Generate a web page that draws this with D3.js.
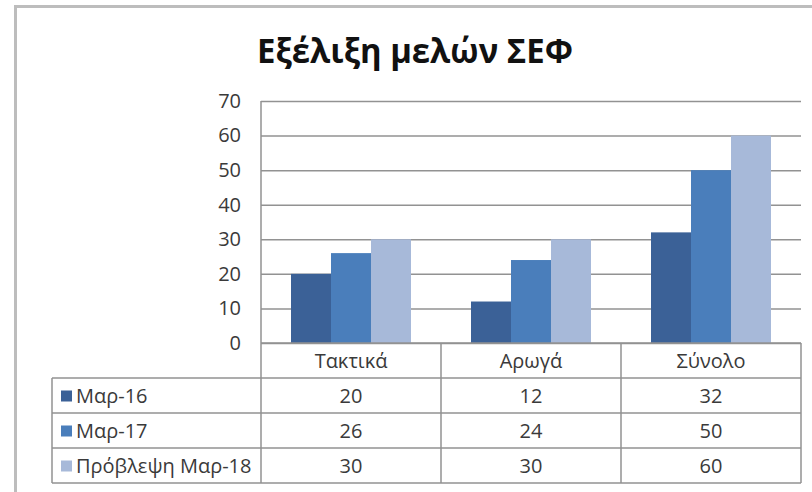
<!DOCTYPE html>
<html>
<head>
<meta charset="utf-8">
<script src="https://cdn.jsdelivr.net/npm/d3@7"></script>
<style>
	body { margin: 0; background: #ffffff; }
	svg { display: block; font-family: "Open Sans", "Noto Sans", sans-serif; }
</style>
</head>
<body>
<div id="chart"></div>
<script>
// chart data
const CATEGORIES = ["Τακτικά", "Αρωγά", "Σύνολο"];
const SERIES = ["Μαρ-16", "Μαρ-17", "Πρόβλεψη Μαρ-18"];
const MAR_16 = [20, 12, 32];
const MAR_17 = [26, 24, 50];
const MAR_18 = [30, 30, 60];
const Y_TICKS = [0, 10, 20, 30, 40, 50, 60, 70];
const TITLE = "Εξέλιξη μελών ΣΕΦ";

const VALUES = [MAR_16, MAR_17, MAR_18];
const COLORS = ["#3b6197", "#4a7ebb", "#a7b9d9"];

// frame size
const FRAME_WIDTH = 812;
const FRAME_HEIGHT = 492;
const PLOT = {left: 261, right: 801, top: 101, bottom: 343};
const TABLE = {left: 52, top: 378, bottom: 483};
const GRID_COLOR = "#929292";
const TEXT_COLOR = "#3a3a3a";
const FONT_SIZE = "20px";

const FRAME = d3.select("#chart")
				.append("svg")
					.attr("width", FRAME_WIDTH)
					.attr("height", FRAME_HEIGHT);

// outer chart border (only top & left fall inside the picture)
FRAME.append("rect")
		.attr("x", 15.5)
		.attr("y", 6.5)
		.attr("width", FRAME_WIDTH + 20)
		.attr("height", FRAME_HEIGHT + 20)
		.attr("fill", "none")
		.attr("stroke", "#bdbdbd")
		.attr("stroke-width", 3);

// title
FRAME.append("text")
		.attr("x", 415)
		.attr("y", 63)
		.attr("text-anchor", "middle")
		.attr("font-size", "34px")
		.attr("font-weight", "bold")
		.attr("textLength", 316)
		.attr("lengthAdjust", "spacingAndGlyphs")
		.attr("fill", "#111111")
		.text(TITLE);

// scales
const X_SCALE = d3.scaleBand()
					.domain(CATEGORIES)
					.range([PLOT.left, PLOT.right]);

const X_SUB = d3.scaleBand()
					.domain(d3.range(SERIES.length))
					.range([0, X_SCALE.bandwidth()])
					.paddingOuter(0.75);

const Y_SCALE = d3.scaleLinear()
					.domain([0, 70])
					.range([PLOT.bottom, PLOT.top]);

const ROW_SCALE = d3.scaleBand()
					.domain(SERIES)
					.range([TABLE.top, TABLE.bottom]);

// gridlines
FRAME.append("g")
		.attr("transform", "translate(" + PLOT.left + ",0)")
		.call(d3.axisLeft(Y_SCALE).tickValues(Y_TICKS).tickSize(-(PLOT.right - PLOT.left)).tickFormat(""))
		.call((g) => g.select(".domain").remove())
		.selectAll("line")
			.attr("stroke", GRID_COLOR)
			.attr("stroke-width", 1.5);

// y-axis labels
FRAME.append("g")
		.attr("transform", "translate(" + PLOT.left + ",0)")
		.call(d3.axisLeft(Y_SCALE).tickValues(Y_TICKS).tickSize(0).tickPadding(20))
		.call((g) => g.select(".domain").remove())
		.selectAll("text")
			.attr("font-family", "'Open Sans', sans-serif")
			.attr("font-size", FONT_SIZE)
			.attr("fill", TEXT_COLOR);

// bars
VALUES.forEach((vals, s) => {
	FRAME.selectAll(".bar-" + s)
			.data(CATEGORIES)
			.enter()
			.append("rect")
				.attr("class", "bar-" + s)
				.attr("x", (d) => {return X_SCALE(d) + X_SUB(s);})
				.attr("y", (d, i) => {return Y_SCALE(vals[i]);})
				.attr("width", X_SUB.bandwidth())
				.attr("height", (d, i) => {return Y_SCALE(0) - Y_SCALE(vals[i]);})
				.attr("fill", COLORS[s]);
});

// table lines
const LINES = FRAME.append("g")
					.attr("stroke", GRID_COLOR)
					.attr("stroke-width", 1.5);

// vertical axis line (continues down through the table)
LINES.append("line")
		.attr("x1", PLOT.left).attr("x2", PLOT.left)
		.attr("y1", PLOT.top).attr("y2", TABLE.bottom);

// category axis line
LINES.append("line")
		.attr("x1", PLOT.left).attr("x2", PLOT.right)
		.attr("y1", Y_SCALE(0)).attr("y2", Y_SCALE(0));

// column dividers
LINES.selectAll(".col")
		.data(CATEGORIES)
		.enter()
		.append("line")
			.attr("x1", (d) => {return X_SCALE(d) + X_SCALE.bandwidth();})
			.attr("x2", (d) => {return X_SCALE(d) + X_SCALE.bandwidth();})
			.attr("y1", Y_SCALE(0))
			.attr("y2", TABLE.bottom);

// table left edge
LINES.append("line")
		.attr("x1", TABLE.left).attr("x2", TABLE.left)
		.attr("y1", TABLE.top).attr("y2", TABLE.bottom);

// row lines
LINES.selectAll(".row")
		.data(SERIES)
		.enter()
		.append("line")
			.attr("x1", TABLE.left)
			.attr("x2", PLOT.right)
			.attr("y1", (d) => {return ROW_SCALE(d);})
			.attr("y2", (d) => {return ROW_SCALE(d);});

LINES.append("line")
		.attr("x1", TABLE.left).attr("x2", PLOT.right)
		.attr("y1", TABLE.bottom).attr("y2", TABLE.bottom);

// category labels in header row
FRAME.selectAll(".cat")
		.data(CATEGORIES)
		.enter()
		.append("text")
			.attr("x", (d) => {return X_SCALE(d) + X_SCALE.bandwidth() / 2;})
			.attr("y", (Y_SCALE(0) + TABLE.top) / 2)
			.attr("dy", "0.35em")
			.attr("text-anchor", "middle")
			.attr("font-size", FONT_SIZE)
			.attr("fill", TEXT_COLOR)
			.text((d) => {return d;});

// legend keys + series names
FRAME.selectAll(".key")
		.data(SERIES)
		.enter()
		.append("rect")
			.attr("x", 61)
			.attr("y", (d) => {return ROW_SCALE(d) + ROW_SCALE.bandwidth() / 2 - 5;})
			.attr("width", 11)
			.attr("height", 11)
			.attr("fill", (d, i) => {return COLORS[i];});

FRAME.selectAll(".name")
		.data(SERIES)
		.enter()
		.append("text")
			.attr("x", 76)
			.attr("y", (d) => {return ROW_SCALE(d) + ROW_SCALE.bandwidth() / 2;})
			.attr("dy", "0.35em")
			.attr("font-size", FONT_SIZE)
			.attr("fill", TEXT_COLOR)
			.text((d) => {return d;});

// values in table cells
VALUES.forEach((vals, s) => {
	FRAME.selectAll(".val-" + s)
			.data(CATEGORIES)
			.enter()
			.append("text")
				.attr("x", (d) => {return X_SCALE(d) + X_SCALE.bandwidth() / 2;})
				.attr("y", ROW_SCALE(SERIES[s]) + ROW_SCALE.bandwidth() / 2)
				.attr("dy", "0.35em")
				.attr("text-anchor", "middle")
				.attr("font-size", FONT_SIZE)
				.attr("fill", TEXT_COLOR)
				.text((d, i) => {return vals[i];});
});
</script>
</body>
</html>
